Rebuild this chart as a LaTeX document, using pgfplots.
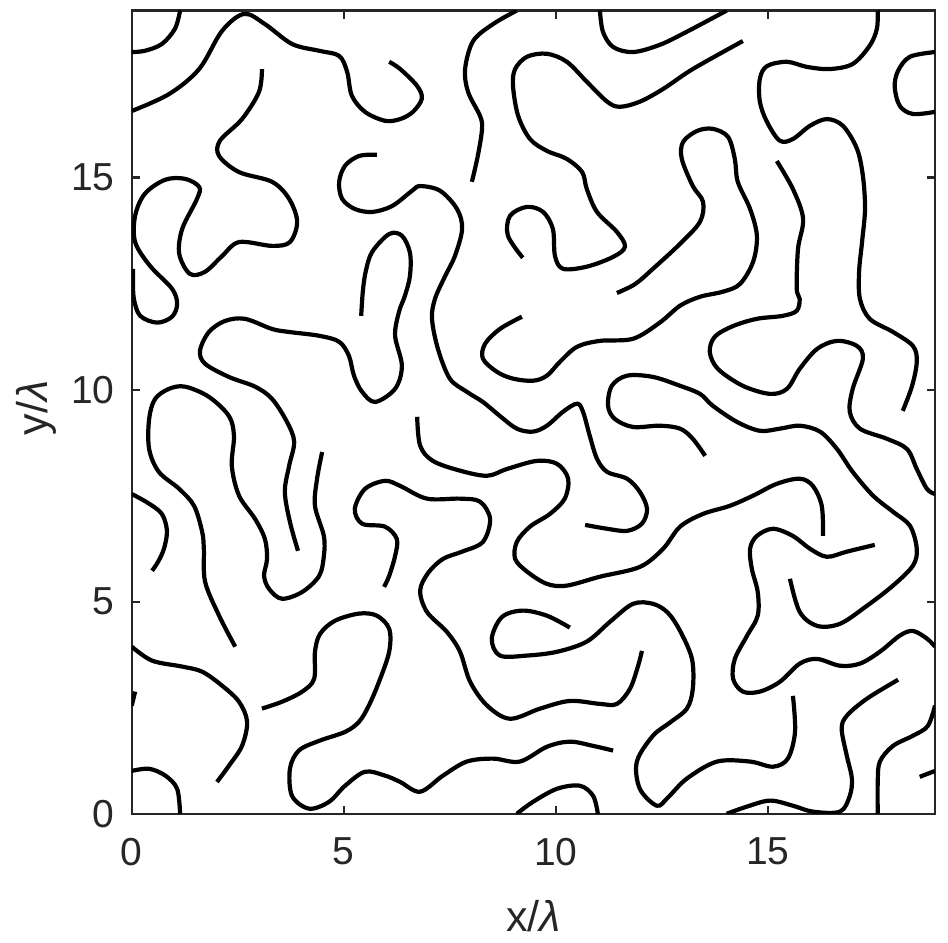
\documentclass[border=0pt]{standalone}
\usepackage{fontspec}
\setmainfont{Liberation Sans}
\usepackage{pgfplots}
\pgfplotsset{compat=1.18}
\definecolor{axgray}{rgb}{0.15,0.15,0.15}
\pgfplotsset{cont/.style={black, line width=2.1pt, smooth, tension=0.55, mark=none, line join=round}}

\begin{document}
\begin{tikzpicture}
\begin{axis}[name=ax,
  width=401.5pt, height=401.5pt, scale only axis,
  xmin=0, xmax=18.94, ymin=0, ymax=18.94,
  xtick={0,5,10,15}, ytick={0,5,10,15},
  tick align=inside, xtick pos=both, ytick pos=both,
  major tick length=4pt,
  axis line style={axgray, line width=1.1pt},
  every tick/.append style={axgray, line width=1.1pt},
  ticklabel style={font=\fontsize{19.5}{23}\selectfont, text=axgray},
  /pgf/number format/assume math mode=true,
  xticklabel style={yshift=-8.5pt},
  yticklabel style={xshift=-5pt},
  xlabel={x/\textit{λ}}, ylabel={y/\textit{λ}},
  label style={font=\fontsize{21.5}{25}\selectfont, text=axgray},
  xlabel style={at={(axis description cs:0.5,-0.147)}, anchor=base},
  ylabel style={at={(axis description cs:-0.1054,0.505)}, anchor=base},
]
% contour segments
\addplot[cont] coordinates {(1.14,18.94) (1.02,18.51) (0.71,18.15) (0.31,17.99) (0,17.96)};
\addplot[cont] coordinates {(0,16.57) (0.88,16.97) (1.59,17.56) (2.13,18.46) (2.65,18.86) (3.14,18.62) (3.78,18.15) (4.42,17.99) (4.89,17.87) (5.08,17.49) (5.19,16.93) (5.50,16.55) (5.97,16.34) (6.33,16.38) (6.63,16.55) (6.84,16.86) (6.73,17.16) (6.33,17.56) (6.07,17.73)};
\addplot[cont] coordinates {(3.07,17.56) (3.00,17.02) (2.60,16.38) (2.08,15.87) (2.06,15.51) (2.53,15.13) (3.31,14.90) (3.71,14.50) (3.90,13.96) (3.73,13.48) (3.31,13.39) (2.53,13.48) (2.13,13.15) (1.73,12.78) (1.37,12.73) (1.12,13.20) (1.19,13.79) (1.54,14.50) (1.59,14.78) (1.26,14.97) (0.79,14.95) (0.31,14.62) (0.08,14.10) (0.08,13.48) (0.43,12.92) (0.95,12.38) (1.07,12.02) (0.95,11.72) (0.60,11.58) (0.20,11.74) (0.05,12.14) (0.03,12.57) (0.03,12.85)};
\addplot[cont] coordinates {(5.78,15.54) (5.36,15.51) (5.03,15.28) (4.89,14.90) (4.96,14.50) (5.26,14.26) (5.67,14.19) (6.14,14.33) (6.61,14.69) (6.80,14.80) (7.27,14.69) (7.67,14.26) (7.79,13.79) (7.62,13.15) (7.39,12.68) (7.15,12.14) (7.08,11.67) (7.22,10.96) (7.50,10.26) (7.90,9.95) (8.28,9.71) (8.68,9.38) (9.08,9.08) (9.46,9.01) (9.79,9.15) (10.17,9.48) (10.50,9.67) (10.64,9.48) (10.80,8.91) (10.97,8.37) (11.21,8.06) (11.68,7.90) (11.98,7.59) (12.15,7.19) (12.03,6.84) (11.68,6.67) (11.21,6.72) (10.69,6.81)};
\addplot[cont] coordinates {(5.41,11.74) (5.45,12.33) (5.52,12.80) (5.67,13.25) (6.07,13.67) (6.37,13.63) (6.56,13.23) (6.56,12.68) (6.44,12.21) (6.30,11.83) (6.21,11.27) (6.37,10.56) (6.21,10.02) (5.74,9.71) (5.43,9.95) (5.24,10.33) (5.12,10.80) (4.89,11.13) (4.42,11.27) (3.71,11.36) (3.31,11.43) (2.67,11.67) (2.20,11.62) (1.82,11.36) (1.61,10.92) (1.73,10.61) (2.29,10.30) (2.91,10.07) (3.31,9.78) (3.66,9.24) (3.83,8.77) (3.71,8.20) (3.61,7.59) (3.73,6.88) (3.92,6.20)};
\addplot[cont] coordinates {(9.08,18.94) (8.52,18.62) (8.05,18.22) (7.86,17.56) (7.93,17.02) (8.21,16.46) (8.26,16.15) (8.16,15.51) (8.02,14.90)};
\addplot[cont] coordinates {(11.04,18.94) (11.11,18.44) (11.35,18.08) (11.82,17.96) (12.45,18.13) (13.09,18.44) (14.03,18.94)};
\addplot[cont] coordinates {(9.22,13.11) (8.87,13.63) (8.92,14.10) (9.32,14.31) (9.70,14.19) (9.93,13.79) (9.98,13.15) (10.17,12.85) (10.73,12.90) (11.35,13.13) (11.63,13.37) (11.44,13.72) (10.97,14.19) (10.73,14.73) (10.62,15.13) (10.26,15.44) (9.79,15.63) (9.39,15.91) (9.11,16.46) (8.99,17.16) (9.04,17.56) (9.32,17.85) (9.79,17.92) (10.26,17.73) (10.73,17.26) (11.21,16.79) (11.51,16.67) (11.98,16.79) (12.53,17.09) (13.23,17.56) (14.41,18.22)};
\addplot[cont] coordinates {(11.44,12.28) (11.87,12.49) (12.29,12.85) (12.93,13.44) (13.40,13.96) (13.47,14.43) (13.23,14.80) (12.97,15.44) (13.00,15.84) (13.33,16.10) (13.70,16.15) (14.06,15.96) (14.22,15.44) (14.29,14.90) (14.58,14.26) (14.74,13.63) (14.65,13.01) (14.34,12.49) (13.94,12.31) (13.40,12.19) (12.93,11.98) (12.45,11.58) (11.82,11.20) (11.04,11.15) (10.50,11.01) (10.10,10.66) (9.79,10.33) (9.46,10.21) (8.99,10.26) (8.61,10.42) (8.28,10.73) (8.33,11.08) (8.68,11.43) (9.20,11.72)};
\addplot[cont] coordinates {(17.59,18.94) (17.57,18.51) (17.40,18.11) (17.00,17.68) (16.46,17.56) (15.92,17.61) (15.45,17.73) (14.98,17.63) (14.81,17.33) (14.81,16.79) (14.98,16.31) (15.28,15.87) (15.59,15.91) (15.99,16.22) (16.39,16.38) (16.77,16.22) (17.10,15.68) (17.24,15.04) (17.29,14.26) (17.22,13.48) (17.15,12.78) (17.17,12.14) (17.40,11.67) (17.95,11.36) (18.42,11.03) (18.51,10.66) (18.40,10.09) (18.18,9.50)};
\addplot[cont] coordinates {(18.94,17.96) (18.35,17.85) (18.07,17.52) (17.99,17.14) (18.11,16.69) (18.42,16.50) (18.94,16.55)};
\addplot[cont] coordinates {(15.21,15.39) (15.59,14.73) (15.83,14.03) (15.71,13.32) (15.68,12.38) (15.75,12.14) (15.68,11.86) (15.35,11.74) (14.74,11.67) (14.18,11.50) (13.75,11.25) (13.63,10.89) (13.82,10.49) (14.41,10.09) (15.05,9.90) (15.45,10.02) (15.75,10.49) (16.16,10.96) (16.63,11.15) (17.10,11.03) (17.24,10.73) (17.00,10.02) (16.93,9.48) (17.17,9.08) (17.81,8.84) (18.28,8.60) (18.51,8.13) (18.75,7.66) (18.94,7.54)};
\addplot[cont] coordinates {(13.52,8.44) (13.23,8.84) (12.93,9.08) (12.45,9.15) (11.82,9.12) (11.39,9.31) (11.23,9.62) (11.32,10.09) (11.68,10.33) (12.29,10.30) (12.93,10.09) (13.40,9.90) (13.70,9.62) (14.27,9.24) (14.81,9.03) (15.28,9.08) (15.75,9.15) (16.23,9.01) (16.63,8.60) (17.00,8.06) (17.48,7.50) (17.95,7.12) (18.35,6.79) (18.51,6.25) (18.42,5.85) (17.95,5.38) (17.33,4.90) (16.70,4.48) (16.16,4.43) (15.75,4.76) (15.52,5.54)};
\addplot[cont] coordinates {(6.73,9.36) (6.80,8.68) (7.10,8.32) (7.74,8.09) (8.38,7.97) (8.85,8.13) (9.55,8.32) (10.03,8.25) (10.29,7.90) (10.21,7.43) (9.86,7.07) (9.39,6.77) (9.08,6.41) (9.04,6.01) (9.32,5.71) (9.79,5.42) (10.26,5.38) (11.04,5.59) (11.98,5.82) (12.53,6.25) (12.93,6.77) (13.47,7.07) (14.10,7.26) (14.65,7.50) (15.21,7.78) (15.75,7.90) (16.06,7.73) (16.27,7.26) (16.30,6.55)};
\addplot[cont] coordinates {(17.52,6.34) (16.86,6.18) (16.39,6.06) (15.99,6.25) (15.59,6.55) (15.12,6.72) (14.74,6.55) (14.58,6.25) (14.62,5.78) (14.76,5.23) (14.76,4.67) (14.51,4.20) (14.22,3.65) (14.18,3.18) (14.41,2.88) (14.81,2.88) (15.28,3.11) (15.75,3.54) (16.16,3.65) (16.70,3.49) (17.17,3.54) (17.64,3.82) (18.11,4.20) (18.42,4.31) (18.75,4.13) (18.94,3.94)};
\addplot[cont] coordinates {(10.33,4.39) (9.79,4.67) (9.22,4.79) (8.73,4.64) (8.49,4.13) (8.68,3.73) (9.32,3.73) (10.03,3.82) (10.73,4.06) (11.28,4.53) (11.82,4.95) (12.29,4.95) (12.64,4.74) (12.93,4.31) (13.21,3.65) (13.23,2.95) (13.09,2.48) (12.69,2.15) (12.29,1.84) (11.91,1.23) (11.98,0.59) (12.38,0.19) (12.64,0.38) (13.09,0.83) (13.80,1.23) (14.58,1.23) (15.12,1.11) (15.47,1.30) (15.64,1.93) (15.59,2.78)};
\addplot[cont] coordinates {(14.03,0) (14.51,0.17) (15.05,0.31) (15.59,0.19) (16.06,0.05) (16.70,0.05) (16.93,0.42) (16.98,0.83) (16.86,1.37) (16.74,2.00) (16.86,2.31) (17.33,2.71) (18.07,3.16)};
\addplot[cont] coordinates {(17.59,0) (17.59,0.75) (17.64,1.23) (17.95,1.60) (18.42,1.84) (18.77,2.07) (18.94,2.55)};
\addplot[cont] coordinates {(18.58,0.87) (18.94,1.01)};
\addplot[cont] coordinates {(5.95,5.35) (6.07,5.61) (6.21,6.08) (6.25,6.48) (5.97,6.77) (5.43,6.84) (5.26,7.19) (5.50,7.66) (5.97,7.85) (6.33,7.73) (6.96,7.43) (7.74,7.43) (8.21,7.36) (8.45,6.95) (8.28,6.41) (7.79,6.18) (7.34,6.01) (6.99,5.68) (6.80,5.26) (6.96,4.76) (7.43,4.29) (7.74,3.82) (7.98,3.11) (8.38,2.55) (8.92,2.24) (9.63,2.48) (10.33,2.66) (11.04,2.59) (11.44,2.59) (11.75,2.95) (11.94,3.49) (12.03,3.84)};
\addplot[cont] coordinates {(3.07,2.48) (3.54,2.64) (4.02,2.88) (4.30,3.18) (4.32,3.82) (4.44,4.24) (4.79,4.55) (5.36,4.72) (5.78,4.67) (6.07,4.36) (6.07,3.82) (5.83,3.11) (5.59,2.55) (5.36,2.17) (5.03,1.93) (4.42,1.72) (3.94,1.49) (3.73,1.06) (3.78,0.42) (4.18,0.12) (4.65,0.28) (5.03,0.66) (5.50,0.99) (5.97,0.90) (6.33,0.75) (6.80,0.52) (7.34,0.90) (7.90,1.23) (8.52,1.30) (9.15,1.23) (9.79,1.58) (10.33,1.70) (10.88,1.60) (11.35,1.49)};
\addplot[cont] coordinates {(9.08,0) (9.46,0.28) (10.03,0.59) (10.57,0.66) (10.88,0.42) (10.99,0)};
\addplot[cont] coordinates {(0,7.54) (0.38,7.33) (0.71,7.07) (0.83,6.67) (0.76,6.25) (0.62,5.94) (0.48,5.73)};
\addplot[cont] coordinates {(2.44,3.94) (2.06,4.67) (1.73,5.47) (1.70,6.25) (1.66,6.65) (1.47,7.26) (1.12,7.66) (0.64,8.06) (0.41,8.60) (0.41,9.31) (0.55,9.78) (0.88,10.02) (1.26,10.07) (1.82,9.83) (2.29,9.38) (2.41,8.91) (2.36,8.20) (2.53,7.50) (2.91,6.95) (3.14,6.48) (3.19,6.01) (3.12,5.61) (3.24,5.30) (3.54,5.07) (4.02,5.23) (4.42,5.61) (4.53,6.08) (4.53,6.55) (4.32,7.26) (4.37,7.90) (4.49,8.53)};
\addplot[cont] coordinates {(0,3.94) (0.48,3.61) (1.19,3.47) (1.66,3.35) (2.13,3.02) (2.53,2.64) (2.72,2.17) (2.60,1.60) (2.29,1.13) (2.01,0.75)};
\addplot[cont] coordinates {(0,2.55) (0.08,2.88)};
\addplot[cont] coordinates {(0,1.01) (0.41,1.06) (0.79,0.90) (1.07,0.59) (1.14,0)};
\end{axis}
\pgfresetboundingbox
\path[use as bounding box] ([shift={(-65.85pt,-64.5pt)}]ax.south west) rectangle ([shift={(6.5pt,5.25pt)}]ax.north east);
\end{tikzpicture}
\end{document}
